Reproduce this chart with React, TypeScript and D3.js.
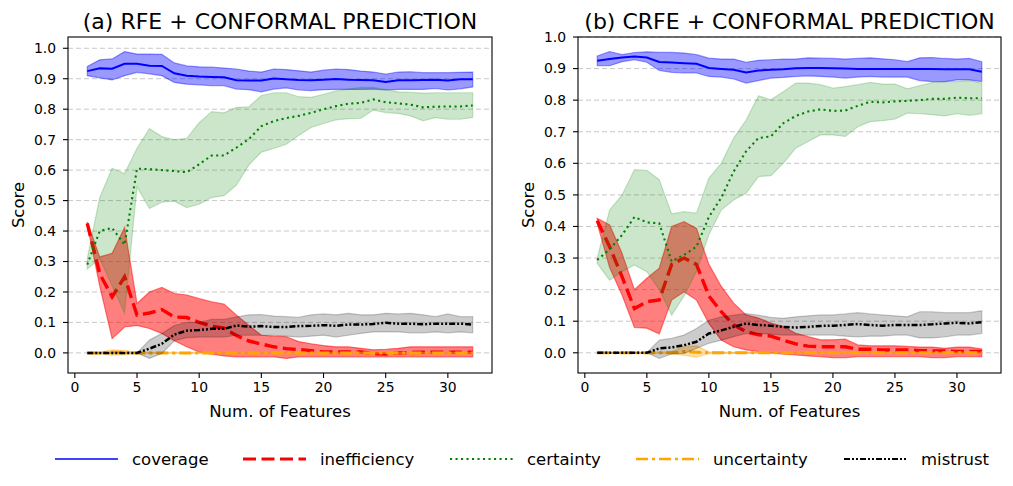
import * as d3 from "d3";

const FEATURES = d3.range(1, 33);

// (a) RFE
const rfeCoverage = [0.925,0.934,0.933,0.949,0.949,0.943,0.942,0.918,0.910,0.907,0.906,0.905,0.895,0.894,0.894,0.901,0.898,0.896,0.895,0.897,0.899,0.897,0.896,0.895,0.889,0.895,0.895,0.896,0.897,0.894,0.898,0.898];
const rfeCoverageHi = [0.940,0.962,0.965,0.989,0.981,0.981,0.980,0.952,0.942,0.939,0.938,0.935,0.932,0.925,0.922,0.932,0.930,0.926,0.922,0.928,0.932,0.930,0.925,0.922,0.915,0.922,0.923,0.920,0.920,0.920,0.921,0.922];
const rfeCoverageLo = [0.910,0.903,0.896,0.910,0.921,0.916,0.910,0.888,0.882,0.880,0.877,0.877,0.866,0.864,0.857,0.866,0.870,0.863,0.861,0.864,0.865,0.865,0.865,0.866,0.863,0.865,0.865,0.865,0.868,0.863,0.867,0.873];

const rfeIneff = [0.425,0.26,0.184,0.25,0.124,0.131,0.142,0.118,0.116,0.100,0.088,0.081,0.057,0.039,0.029,0.020,0.014,0.011,0.007,0.003,0.003,0.003,0.003,-0.002,-0.004,0.000,0.001,0.002,0.002,0.002,0.002,0.002];
const rfeIneffHi = [0.43,0.315,0.327,0.412,0.162,0.200,0.215,0.195,0.190,0.178,0.168,0.160,0.124,0.090,0.058,0.055,0.053,0.037,0.030,0.024,0.020,0.020,0.015,0.010,0.012,0.015,0.020,0.020,0.020,0.020,0.020,0.020];
const rfeIneffLo = [0.42,0.22,0.047,0.085,0.09,0.08,0.064,0.04,0.02,0.003,-0.004,-0.01,-0.013,-0.013,-0.013,-0.013,-0.018,-0.013,-0.013,-0.013,-0.013,-0.013,-0.013,-0.013,-0.013,-0.013,-0.013,-0.013,-0.013,-0.013,-0.013,-0.013];

const rfeCertainty = [0.29,0.40,0.41,0.355,0.605,0.603,0.600,0.597,0.593,0.619,0.648,0.648,0.674,0.702,0.744,0.761,0.771,0.778,0.788,0.800,0.810,0.818,0.821,0.832,0.823,0.819,0.815,0.806,0.808,0.809,0.809,0.812];
const rfeCertaintyHi = [0.31,0.51,0.606,0.589,0.672,0.736,0.710,0.700,0.704,0.756,0.792,0.788,0.806,0.808,0.845,0.854,0.854,0.841,0.839,0.849,0.860,0.866,0.872,0.872,0.864,0.857,0.855,0.853,0.854,0.854,0.854,0.854];
const rfeCertaintyLo = [0.275,0.31,0.22,0.13,0.545,0.474,0.495,0.498,0.477,0.488,0.510,0.516,0.551,0.617,0.659,0.671,0.685,0.714,0.740,0.753,0.765,0.769,0.770,0.797,0.789,0.786,0.778,0.762,0.772,0.767,0.767,0.773];

const rfeUncert = [0,0,0.002,0.002,0,0,0,0,0,0,0,0,0,0,0,0,0,0,0,0,0,0,0,0,0,0,0,0,0,0,0,0];
const rfeUncertHi = [0.002,0.003,0.010,0.008,0.002,0.002,0.002,0.002,0.002,0.002,0.002,0.002,0.002,0.002,0.002,0.002,0.002,0.002,0.002,0.002,0.002,0.002,0.002,0.002,0.002,0.002,0.002,0.002,0.002,0.002,0.002,0.002];
const rfeUncertLo = [-0.002,-0.003,-0.008,-0.006,-0.002,-0.002,-0.002,-0.002,-0.002,-0.002,-0.002,-0.002,-0.002,-0.002,-0.002,-0.002,-0.002,-0.002,-0.002,-0.002,-0.002,-0.002,-0.002,-0.002,-0.002,-0.002,-0.002,-0.002,-0.002,-0.002,-0.002,-0.002];

const rfeMistrust = [0,0,0,0,0,0.014,0.03,0.06,0.073,0.075,0.079,0.079,0.09,0.086,0.088,0.085,0.085,0.088,0.089,0.091,0.089,0.093,0.093,0.095,0.099,0.096,0.096,0.094,0.096,0.096,0.096,0.093];
const rfeMistrustHi = [0,0,0,0,0,0.042,0.064,0.09,0.1,0.1,0.11,0.11,0.118,0.125,0.126,0.121,0.119,0.117,0.125,0.128,0.125,0.13,0.125,0.125,0.13,0.128,0.13,0.125,0.119,0.128,0.119,0.119];
const rfeMistrustLo = [0,0,0,0,0,-0.018,-0.002,0.04,0.05,0.052,0.052,0.052,0.058,0.058,0.058,0.058,0.055,0.052,0.055,0.058,0.052,0.058,0.064,0.069,0.069,0.069,0.066,0.066,0.069,0.066,0.069,0.066];

// (b) CRFE
const crfeCoverage = [0.925,0.93,0.935,0.938,0.935,0.921,0.919,0.917,0.915,0.902,0.899,0.896,0.888,0.894,0.896,0.898,0.901,0.902,0.902,0.901,0.900,0.899,0.899,0.899,0.899,0.899,0.899,0.899,0.898,0.898,0.898,0.890];
const crfeCoverageHi = [0.940,0.954,0.944,0.951,0.953,0.951,0.951,0.949,0.944,0.933,0.930,0.930,0.920,0.926,0.928,0.930,0.930,0.934,0.933,0.932,0.930,0.932,0.934,0.931,0.928,0.922,0.934,0.935,0.932,0.930,0.932,0.922];
const crfeCoverageLo = [0.909,0.909,0.922,0.928,0.920,0.894,0.888,0.886,0.886,0.875,0.873,0.867,0.854,0.862,0.870,0.872,0.875,0.877,0.875,0.873,0.870,0.873,0.875,0.873,0.873,0.873,0.862,0.859,0.859,0.864,0.864,0.859];

const crfeIneff = [0.418,0.336,0.241,0.14,0.162,0.167,0.28,0.30,0.28,0.18,0.13,0.088,0.067,0.057,0.053,0.040,0.028,0.021,0.019,0.019,0.019,0.011,0.011,0.009,0.009,0.009,0.007,0.006,0.006,0.004,0.004,0.004];
const crfeIneffHi = [0.426,0.405,0.315,0.20,0.236,0.268,0.40,0.415,0.394,0.28,0.21,0.157,0.12,0.11,0.094,0.083,0.062,0.051,0.041,0.041,0.043,0.025,0.022,0.022,0.022,0.020,0.018,0.018,0.014,0.018,0.018,0.012];
const crfeIneffLo = [0.41,0.27,0.183,0.08,0.078,0.06,0.167,0.193,0.167,0.093,0.04,0.019,0.009,0.004,0.000,-0.004,-0.007,-0.010,-0.0125,-0.015,-0.015,-0.0125,-0.0125,-0.0125,-0.0125,-0.0125,-0.0125,-0.015,-0.015,-0.0125,-0.0125,-0.0125];

const crfeCertainty = [0.294,0.328,0.373,0.43,0.413,0.41,0.289,0.31,0.336,0.43,0.491,0.574,0.638,0.68,0.685,0.727,0.750,0.764,0.771,0.766,0.767,0.782,0.795,0.793,0.796,0.798,0.800,0.804,0.804,0.808,0.806,0.806];
const crfeCertaintyHi = [0.30,0.452,0.50,0.58,0.578,0.548,0.44,0.447,0.442,0.553,0.60,0.68,0.737,0.814,0.801,0.827,0.854,0.854,0.849,0.838,0.843,0.849,0.856,0.851,0.851,0.836,0.846,0.856,0.859,0.859,0.862,0.854];
const crfeCertaintyLo = [0.283,0.23,0.257,0.278,0.257,0.20,0.119,0.18,0.257,0.374,0.452,0.484,0.505,0.558,0.561,0.60,0.648,0.669,0.69,0.69,0.685,0.716,0.732,0.735,0.74,0.759,0.757,0.754,0.75,0.757,0.752,0.757];

const crfeUncert = [0,0,0,0,0,0,0,0.004,0.002,0,0,0,0,0,0,0,0,0,0,0,0,0,0,0,0,0,0,0,0,0,0,0];
const crfeUncertHi = [0.002,0.002,0.002,0.002,0.002,0.002,0.004,0.020,0.022,0.003,0.002,0.002,0.002,0.002,0.002,0.002,0.002,0.002,0.002,0.002,0.002,0.002,0.002,0.002,0.002,0.002,0.002,0.002,0.002,0.002,0.002,0.002];
const crfeUncertLo = [-0.002,-0.002,-0.002,-0.002,-0.002,-0.002,-0.003,-0.008,-0.014,-0.003,-0.002,-0.002,-0.002,-0.002,-0.002,-0.002,-0.002,-0.002,-0.002,-0.002,-0.002,-0.002,-0.002,-0.002,-0.002,-0.002,-0.002,-0.002,-0.002,-0.002,-0.002,-0.002];

const crfeMistrust = [0,0,0,0,0,0.014,0.017,0.024,0.035,0.061,0.071,0.082,0.093,0.088,0.086,0.082,0.080,0.082,0.085,0.086,0.088,0.091,0.088,0.086,0.088,0.088,0.088,0.090,0.093,0.095,0.093,0.097];
const crfeMistrustHi = [0,0,0,0,0,0.04,0.046,0.056,0.077,0.103,0.114,0.119,0.124,0.119,0.112,0.109,0.114,0.117,0.12,0.12,0.123,0.127,0.123,0.12,0.117,0.114,0.13,0.13,0.127,0.127,0.127,0.133];
const crfeMistrustLo = [0,0,0,0,0,-0.018,-0.004,-0.002,0.014,0.03,0.04,0.051,0.061,0.061,0.059,0.056,0.056,0.056,0.056,0.056,0.0525,0.05,0.0525,0.0525,0.056,0.056,0.047,0.047,0.05,0.056,0.056,0.061];

const X_TICKS = [0, 5, 10, 15, 20, 25, 30];
const Y_TICKS = d3.range(0, 11).map((i) => i / 10);

const FONT = "DejaVu Sans, sans-serif";

interface SeriesStyle {
  key: string;
  label: string;
  color: string;
  fill: string;
  fillOpacity: number;
  width: number;
  dash: string;
}

const STYLES: SeriesStyle[] = [
  { key: "coverage", label: "coverage", color: "#0000ff", fill: "#0000ff", fillOpacity: 0.4, width: 2, dash: "" },
  { key: "ineff", label: "inefficiency", color: "#ff0000", fill: "#ff0000", fillOpacity: 0.5, width: 3.4, dash: "13 5.5" },
  { key: "certainty", label: "certainty", color: "#008000", fill: "#008000", fillOpacity: 0.2, width: 2.1, dash: "2.1 3.4" },
  { key: "uncert", label: "uncertainty", color: "#ffa500", fill: "#ffa500", fillOpacity: 0.35, width: 3, dash: "12 4 3 4" },
  { key: "mistrust", label: "mistrust", color: "#000000", fill: "#000000", fillOpacity: 0.2, width: 2.5, dash: "6 2 2 2 2 2" },
];

interface Band { mean: number[]; lo: number[]; hi: number[] }

const PANELS = [
  {
    title: "(a) RFE + CONFORMAL PREDICTION",
    left: 68, right: 492, top: 37, bottom: 373,
    yDomain: [-0.066, 1.037],
    series: {
      coverage: { mean: rfeCoverage, lo: rfeCoverageLo, hi: rfeCoverageHi },
      ineff: { mean: rfeIneff, lo: rfeIneffLo, hi: rfeIneffHi },
      certainty: { mean: rfeCertainty, lo: rfeCertaintyLo, hi: rfeCertaintyHi },
      uncert: { mean: rfeUncert, lo: rfeUncertLo, hi: rfeUncertHi },
      mistrust: { mean: rfeMistrust, lo: rfeMistrustLo, hi: rfeMistrustHi },
    } as Record<string, Band>,
  },
  {
    title: "(b) CRFE + CONFORMAL PREDICTION",
    left: 578, right: 1001, top: 37, bottom: 373,
    yDomain: [-0.064, 1.0],
    series: {
      coverage: { mean: crfeCoverage, lo: crfeCoverageLo, hi: crfeCoverageHi },
      ineff: { mean: crfeIneff, lo: crfeIneffLo, hi: crfeIneffHi },
      certainty: { mean: crfeCertainty, lo: crfeCertaintyLo, hi: crfeCertaintyHi },
      uncert: { mean: crfeUncert, lo: crfeUncertLo, hi: crfeUncertHi },
      mistrust: { mean: crfeMistrust, lo: crfeMistrustLo, hi: crfeMistrustHi },
    } as Record<string, Band>,
  },
];

function Panel({ p }: { p: (typeof PANELS)[number] }) {
  const x = d3.scaleLinear().domain([-0.55, 33.55]).range([p.left, p.right]);
  const y = d3.scaleLinear().domain(p.yDomain).range([p.bottom, p.top]);
  const cx = (p.left + p.right) / 2;
  const cy = (p.top + p.bottom) / 2;

  return (
    <g>
      <text x={cx} y={29} textAnchor="middle" fontSize={22} fontFamily={FONT} fill="#000">
        {p.title}
      </text>
      {Y_TICKS.map((t) => (
        <line key={t} x1={p.left} x2={p.right} y1={y(t)} y2={y(t)} stroke="#b0b0b0" strokeOpacity={0.7} strokeDasharray="5 3" strokeWidth={1} />
      ))}
      <defs>
        <clipPath id={`clip-${p.left}`}>
          <rect x={p.left} y={p.top} width={p.right - p.left} height={p.bottom - p.top} />
        </clipPath>
      </defs>
      <g clipPath={`url(#clip-${p.left})`}>
        {STYLES.map((s) => {
          const b = p.series[s.key];
          const area = d3
            .area<number>()
            .x((d) => x(d))
            .y0((_, i) => y(b.lo[i]))
            .y1((_, i) => y(b.hi[i]));
          const line = d3
            .line<number>()
            .x((d) => x(d))
            .y((_, i) => y(b.mean[i]));
          return (
            <g key={s.key}>
              <path d={area(FEATURES) ?? ""} fill={s.fill} fillOpacity={s.fillOpacity} stroke={s.fill} strokeOpacity={s.fillOpacity} strokeWidth={1.2} />
              <path d={line(FEATURES) ?? ""} fill="none" stroke={s.color} strokeWidth={s.width} strokeDasharray={s.dash || undefined} />
            </g>
          );
        })}
      </g>
      <rect x={p.left} y={p.top} width={p.right - p.left} height={p.bottom - p.top} fill="none" stroke="#000" strokeWidth={1.1} />
      {X_TICKS.map((t) => (
        <g key={t} transform={`translate(${x(t)},${p.bottom})`}>
          <line y2={5} stroke="#000" strokeWidth={1.1} />
          <text y={19} textAnchor="middle" fontSize={13.9} fontFamily={FONT} fill="#000">{t}</text>
        </g>
      ))}
      {Y_TICKS.map((t) => (
        <g key={t} transform={`translate(${p.left},${y(t)})`}>
          <line x2={-5} stroke="#000" strokeWidth={1.1} />
          <text x={-12} dy="0.35em" textAnchor="end" fontSize={13.9} fontFamily={FONT} fill="#000">{t.toFixed(1)}</text>
        </g>
      ))}
      <text x={cx} y={417} textAnchor="middle" fontSize={16.5} fontFamily={FONT} fill="#000">Num. of Features</text>
      <text transform={`translate(${p.left - 44},${cy}) rotate(-90)`} textAnchor="middle" fontSize={16.5} fontFamily={FONT} fill="#000">Score</text>
    </g>
  );
}

const LEGEND_X = [55, 243, 450, 636, 844];

export default function App() {
  return (
    <div style={{ position: "absolute", left: 0, top: 0 }}>
      <svg width={1013} height={486} style={{ display: "block", background: "#fff" }}>
        {PANELS.map((p) => (
          <Panel key={p.title} p={p} />
        ))}
        {STYLES.map((s, i) => (
          <g key={s.key} transform={`translate(${LEGEND_X[i]},459)`}>
            <line x1={0} x2={63} stroke={s.color} strokeWidth={s.width * 0.85} strokeDasharray={s.dash || undefined} />
            <text x={77} dy="0.35em" fontSize={16.5} fontFamily={FONT} fill="#000">{s.label}</text>
          </g>
        ))}
      </svg>
    </div>
  );
}
